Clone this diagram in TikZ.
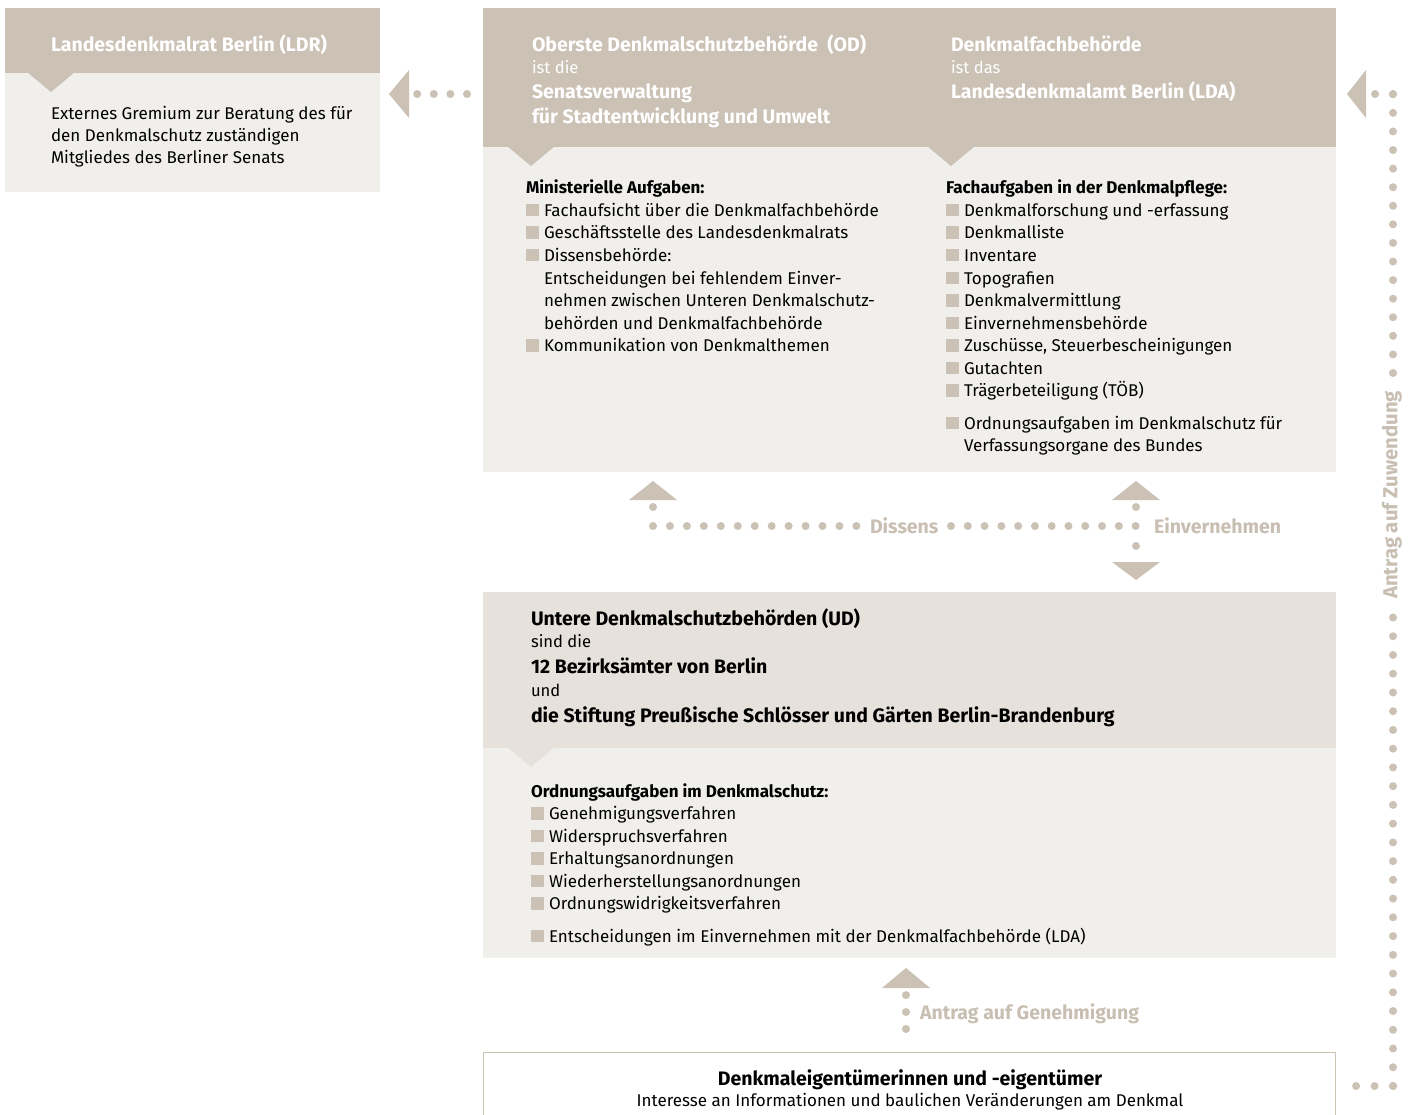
\documentclass[tikz,border=0pt]{standalone}
\usepackage{fontspec}
\setmainfont{Fira Sans}
\usetikzlibrary{calc}
\definecolor{dark}{RGB}{203,193,181}
\definecolor{udhead}{RGB}{230,225,219}
\definecolor{light}{RGB}{241,239,236}
\definecolor{lbl}{RGB}{200,190,178}
\newcommand{\bsq}{\textcolor{dark}{\rule{12.5pt}{12.5pt}}\hspace{5.5pt}}
\newcommand{\bind}{\hspace{18pt}}
\begin{document}
\begin{tikzpicture}[x=1pt,y=-1pt,
  box/.style={rectangle, inner sep=0pt, outer sep=0pt, anchor=north west},
  t/.style={anchor=base west, inner sep=0pt, outer sep=0pt, font=\fontsize{17}{20}\selectfont},
  tb/.style={t, font=\fontsize{17}{20}\selectfont\bfseries},
  hd/.style={anchor=base west, inner sep=0pt, outer sep=0pt, font=\fontsize{19.5}{22}\selectfont\bfseries, text=white},
  hl/.style={anchor=base west, inner sep=0pt, outer sep=0pt, font=\fontsize{16.6}{20}\selectfont, text=white},
  lab/.style={anchor=base west, inner sep=0pt, outer sep=0pt, font=\fontsize{19.5}{22}\selectfont\bfseries, text=lbl},
  dotline/.style={draw=dark, line width=8pt, line cap=round, dash pattern=on 0pt off #1},
  tri/.style={fill=dark}]
\useasboundingbox (0,0) rectangle (1418,1115);
\fill[white] (0,0) rectangle (1418,1115);

% ---------- boxes
\node[box, fill=light, minimum width=375, minimum height=119] (ldrb) at (5,73) {};
\node[box, fill=dark, minimum width=375, minimum height=65] (ldrh) at (5,8) {};
\fill[dark] (27,72) -- (75,72) -- (51,92) -- cycle;

\node[box, fill=light, minimum width=853, minimum height=325] (odb) at (483,147) {};
\node[box, fill=dark, minimum width=853, minimum height=139] (odh) at (483,8) {};
\fill[dark] (507,146) -- (555,146) -- (531,166) -- cycle;
\fill[dark] (927,146) -- (975,146) -- (951,166) -- cycle;

\node[box, fill=light, minimum width=853, minimum height=210] (udb) at (483,748) {};
\node[box, fill=udhead, minimum width=853, minimum height=156] (udh) at (483,592) {};
\fill[udhead] (507,747) -- (555,747) -- (531,767) -- cycle;

\node[box, draw=dark, line width=1.2pt, fill=white, minimum width=852, minimum height=80] (own) at (483.6,1052.6) {};

% ---------- LDR texts
\node[hd] (ldrt) at (51,52) {Landesdenkmalrat Berlin (LDR)};
\node[t] (ldr1) at (51,120) {Externes Gremium zur Beratung des für};
\node[t] (ldr2) at (51,142) {den Denkmalschutz zuständigen};
\node[t] (ldr3) at (51,164) {Mitgliedes des Berliner Senats};

% ---------- OD header
\node[hd] (od1) at (532,52) {Oberste Denkmalschutzbehörde\ \ (OD)};
\node[hl] (od2) at (532,74) {ist die};
\node[hd] (od3) at (532,99) {Senatsverwaltung};
\node[hd] (od4) at (532,124) {für Stadtentwicklung und Umwelt};
% LDA header
\node[hd] (lda1) at (951,52) {Denkmalfachbehörde};
\node[hl] (lda2) at (951,74) {ist das};
\node[hd] (lda3) at (951,99) {Landesdenkmalamt Berlin (LDA)};

% ---------- Ministerielle Aufgaben
\node[tb] (mh) at (526,194) {Ministerielle Aufgaben:};
\foreach \yy/\s [count=\i] in {
  216.5/{\bsq Fachaufsicht über die Denkmalfachbehörde},
  239/{\bsq Geschäftsstelle des Landesdenkmalrats},
  261.5/{\bsq Dissensbehörde:},
  284/{\bind Entscheidungen bei fehlendem Einver-},
  306.5/{\bind nehmen zwischen Unteren Denkmalschutz-},
  329/{\bind behörden und Denkmalfachbehörde},
  351.5/{\bsq Kommunikation von Denkmalthemen}}
  \node[t] (m\i) at (526,\yy) {\s};

% ---------- Fachaufgaben
\node[tb] (fh) at (946,194) {Fachaufgaben in der Denkmalpflege:};
\foreach \yy/\s [count=\i] in {
  216.5/{\bsq Denkmalforschung und -erfassung},
  239/{\bsq Denkmalliste},
  261.5/{\bsq Inventare},
  284/{\bsq Topografien},
  306.5/{\bsq Denkmalvermittlung},
  329/{\bsq Einvernehmensbehörde},
  351.5/{\bsq Zuschüsse, Steuerbescheinigungen},
  374/{\bsq Gutachten},
  396.5/{\bsq Trägerbeteiligung (TÖB)},
  429/{\bsq Ordnungsaufgaben im Denkmalschutz für},
  451.5/{\bind Verfassungsorgane des Bundes}}
  \node[t] (f\i) at (946,\yy) {\s};

% ---------- UD header
\node[hd, text=black] (ud1) at (531,625) {Untere Denkmalschutzbehörden (UD)};
\node[hl, text=black] (ud2) at (531,647) {sind die};
\node[hd, text=black] (ud3) at (531,673) {12 Bezirksämter von Berlin};
\node[hl, text=black] (ud4) at (531,696) {und};
\node[hd, text=black] (ud5) at (531,722) {die Stiftung Preußische Schlösser und Gärten Berlin-Brandenburg};

% ---------- Ordnungsaufgaben
\node[tb] (oh) at (531,797) {Ordnungsaufgaben im Denkmalschutz:};
\foreach \yy/\s [count=\i] in {
  819.5/{\bsq Genehmigungsverfahren},
  842/{\bsq Widerspruchsverfahren},
  864.5/{\bsq Erhaltungsanordnungen},
  887/{\bsq Wiederherstellungsanordnungen},
  909.5/{\bsq Ordnungswidrigkeitsverfahren},
  942/{\bsq Entscheidungen im Einvernehmen mit der Denkmalfachbehörde (LDA)}}
  \node[t] (o\i) at (531,\yy) {\s};

% ---------- owner box texts
\node[hd, text=black, anchor=base] (ow1) at (910,1085) {Denkmaleigentümerinnen und -eigentümer};
\node[t, anchor=base] (ow2) at (910,1106) {Interesse an Informationen und baulichen Veränderungen am Denkmal};

% ---------- connector OD -> LDR
\coordinate (a1s) at (467,94);
\coordinate (a1e) at (416.5,94);
\coordinate (a1t) at (389,94);
\draw[dotline=16.6pt] (a1s) -- (a1e);
\fill[tri] (a1t) -- ++(20,-24) -- ++(0,48) -- cycle;

% ---------- Dissens / Einvernehmen
\coordinate (d0) at (653,526);
\coordinate (d1) at (857.5,526);
\coordinate (d2) at (951,526);
\coordinate (d3) at (1136.5,526);
\draw[dotline=16.95pt] (d0) -- (d1);
\draw[dotline=16.78pt] (d2) -- (d3);
\node[lab] (diss) at (870,533) {Dissens};
\node[lab] (einv) at (1154,533) {Einvernehmen};
\fill[dark] (653,507) circle (4);
\fill[tri] (653,481) -- (677,500) -- (629,500) -- cycle;
\fill[dark] (1136,507) circle (4);
\fill[dark] (1136,546) circle (4);
\fill[tri] (1136,481) -- (1160,500) -- (1112,500) -- cycle;
\fill[tri] (1136,580) -- (1160,562) -- (1112,562) -- cycle;

% ---------- Antrag auf Genehmigung
\coordinate (g0) at (906,1029);
\coordinate (g1) at (906,994.5);
\draw[dotline=16.95pt] (g0) -- (g1);
\fill[tri] (906,968) -- (930,988) -- (882,988) -- cycle;
\node[lab] (gen) at (920,1019) {Antrag auf Genehmigung};

% ---------- Antrag auf Zuwendung
\coordinate (z0) at (1356,1086);
\coordinate (z1) at (1393,1086);
\coordinate (z2) at (1393,616.5);
\coordinate (z3) at (1393,373);
\coordinate (z4) at (1393,94);
\coordinate (z5) at (1375,94);
\draw[dotline=18.45pt] (z1) -- (z0);
\draw[dotline=18.74pt] (z1) -- (z2);
\draw[dotline=18.58pt] (z3) -- (z4);
\draw[dotline=17.9pt] (z4) -- (z5);
\fill[tri] (1347,94) -- (1366,70) -- (1366,118) -- cycle;
\node[lab, anchor=center, rotate=90, font=\fontsize{20.3}{22}\selectfont\bfseries] (zuw) at (1392,495) {Antrag auf Zuwendung};
\end{tikzpicture}
\end{document}
